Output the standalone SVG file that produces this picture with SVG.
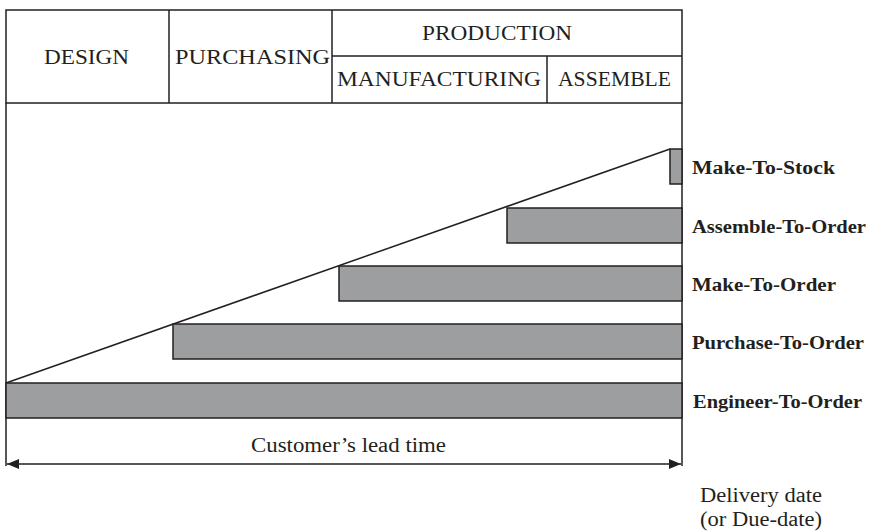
<svg xmlns="http://www.w3.org/2000/svg" width="871" height="531" viewBox="0 0 871 531">
<style>
.ln{stroke:#231f20;stroke-width:1.5;fill:none}
.bar{fill:#9d9e9f;stroke:#231f20;stroke-width:1.5}
.hd{font-family:"Liberation Serif",serif;font-size:21px;fill:#231f20}
.lb{font-family:"Liberation Serif",serif;font-size:18px;font-weight:bold;fill:#231f20}
.tx{font-family:"Liberation Serif",serif;font-size:20px;fill:#231f20}
</style>
<defs>
<marker id="ah" markerWidth="12" markerHeight="10" refX="12" refY="5" orient="auto-start-reverse" markerUnits="userSpaceOnUse">
<path d="M0,0 L12,5 L0,10 Z" fill="#231f20"/>
</marker>
</defs>
<rect width="871" height="531" fill="#fff"/>
<g id="header">
<rect x="6" y="10" width="676" height="93" class="ln"/>
<line x1="169" y1="10" x2="169" y2="103" class="ln"/>
<line x1="332" y1="10" x2="332" y2="103" class="ln"/>
<line x1="332" y1="56" x2="682" y2="56" class="ln"/>
<line x1="547" y1="56" x2="547" y2="103" class="ln"/>
<text x="44" y="64" class="hd" textLength="85" lengthAdjust="spacingAndGlyphs">DESIGN</text>
<text x="175" y="64" class="hd" textLength="155" lengthAdjust="spacingAndGlyphs">PURCHASING</text>
<text x="422" y="40" class="hd" textLength="150" lengthAdjust="spacingAndGlyphs">PRODUCTION</text>
<text x="337" y="86" class="hd" textLength="204" lengthAdjust="spacingAndGlyphs">MANUFACTURING</text>
<text x="558" y="86" class="hd" textLength="113" lengthAdjust="spacingAndGlyphs">ASSEMBLE</text>
</g>
<g id="frame">
<line x1="6" y1="103" x2="6" y2="466" class="ln"/>
<line x1="682" y1="103" x2="682" y2="466" class="ln"/>
<line x1="6" y1="383" x2="670" y2="149" class="ln"/>
</g>
<g id="mts"><rect x="670" y="149" width="12" height="35" class="bar"/><text x="692" y="174" class="lb" textLength="143" lengthAdjust="spacingAndGlyphs">Make-To-Stock</text></g>
<g id="ato"><rect x="507" y="208" width="175" height="35" class="bar"/><text x="692" y="233" class="lb" textLength="174" lengthAdjust="spacingAndGlyphs">Assemble-To-Order</text></g>
<g id="mto"><rect x="339" y="266" width="343" height="35" class="bar"/><text x="692" y="291" class="lb" textLength="144" lengthAdjust="spacingAndGlyphs">Make-To-Order</text></g>
<g id="pto"><rect x="173" y="324" width="509" height="35" class="bar"/><text x="692" y="349" class="lb" textLength="172" lengthAdjust="spacingAndGlyphs">Purchase-To-Order</text></g>
<g id="eto"><rect x="6" y="383" width="676" height="35" class="bar"/><text x="693" y="408" class="lb" textLength="169" lengthAdjust="spacingAndGlyphs">Engineer-To-Order</text></g>
<g id="connectors">
<line x1="7" y1="464" x2="681" y2="464" class="ln" marker-start="url(#ah)" marker-end="url(#ah)"/>
</g>
<text x="251" y="452" class="tx" textLength="195" lengthAdjust="spacingAndGlyphs">Customer’s lead time</text>
<text x="700" y="502" class="tx" textLength="122" lengthAdjust="spacingAndGlyphs">Delivery date</text>
<text x="700" y="526" class="tx" textLength="122" lengthAdjust="spacingAndGlyphs">(or Due-date)</text>
</svg>
